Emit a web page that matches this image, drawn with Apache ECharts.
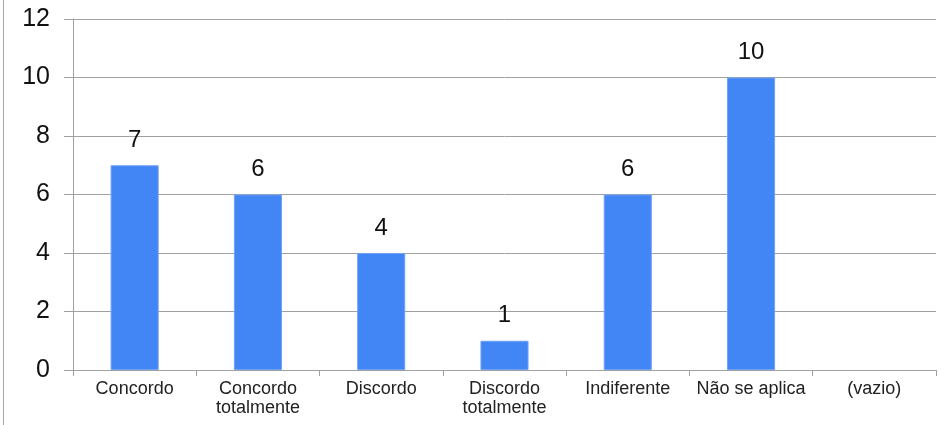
<!DOCTYPE html>
<html><head><meta charset="utf-8">
<script src="https://cdn.jsdelivr.net/npm/echarts@6/dist/echarts.min.js"></script>
<style>html,body{margin:0;padding:0;background:#fff}#c{width:941px;height:425px}</style>
</head><body><div id="c"></div>
<script>
const categories = ['Concordo', 'Concordo\ntotalmente', 'Discordo', 'Discordo\ntotalmente', 'Indiferente', 'Não se aplica', '(vazio)'];
const values = [7, 6, 4, 1, 6, 10, null];
const yTicks = [0, 2, 4, 6, 8, 10, 12];

const chart = echarts.init(document.getElementById('c'), null, {renderer: 'canvas'});
chart.setOption({
  animation: false,
  grid: {left: 73, right: 5, top: 19, bottom: 55},
  graphic: [{type: 'line', shape: {x1: 3.5, y1: 0, x2: 3.5, y2: 425}, style: {stroke: '#a6a6a6', lineWidth: 1}}],
  xAxis: {
    type: 'category', data: categories,
    axisLine: {lineStyle: {color: '#a0a0a0'}},
    axisTick: {show: true, length: 6, lineStyle: {color: '#a0a0a0'}},
    axisLabel: {color: '#222', fontFamily: 'Liberation Sans, Arial, sans-serif', fontSize: 18, lineHeight: 19, margin: 10, interval: 0}
  },
  yAxis: {
    type: 'value', min: yTicks[0], max: yTicks[yTicks.length - 1], interval: 2,
    axisLine: {show: true, lineStyle: {color: '#a0a0a0'}},
    axisTick: {show: true, length: 9, lineStyle: {color: '#a0a0a0'}},
    splitLine: {lineStyle: {color: '#a0a0a0'}},
    axisLabel: {color: '#111', fontFamily: 'Liberation Sans, Arial, sans-serif', fontSize: 25, margin: 23}
  },
  series: [{
    type: 'bar', data: values, barWidth: '39%',
    itemStyle: {color: '#4285f4', borderColor: '#6fa3f7', borderWidth: 1},
    label: {show: true, position: 'top', distance: 13, color: '#111', fontFamily: 'Liberation Sans, Arial, sans-serif', fontSize: 24}
  }]
});
</script></body></html>
